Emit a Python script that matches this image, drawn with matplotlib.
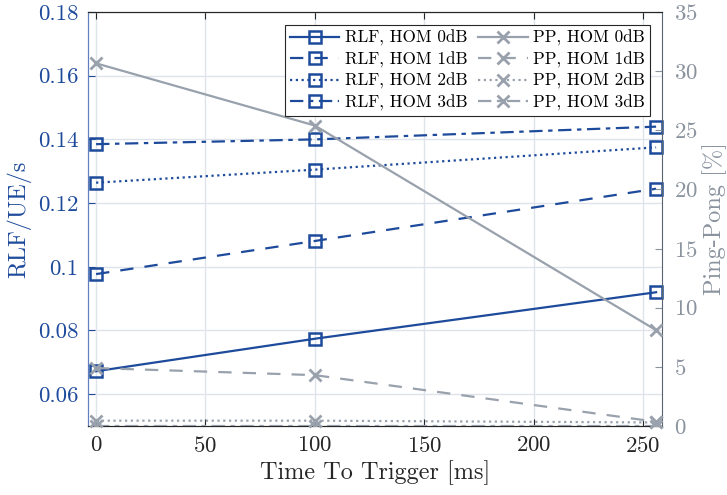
import numpy as np
import matplotlib
matplotlib.use("Agg")
import matplotlib.pyplot as plt

plt.rcParams['font.family'] = 'cmr10'
plt.rcParams['mathtext.fontset'] = 'cm'
plt.rcParams['axes.formatter.use_mathtext'] = True
plt.rcParams['axes.unicode_minus'] = False

# data
ttt = [0, 100, 256]
hom = ['0dB', '1dB', '2dB', '3dB']
rlf = [
    [0.0672, 0.0774, 0.0920],
    [0.0977, 0.1081, 0.1245],
    [0.1264, 0.1305, 0.1375],
    [0.1385, 0.1400, 0.1440],
]
pp = [
    [30.66, 25.4, 8.1],
    [4.9, 4.3, 0.36],
    [0.45, 0.45, 0.3],
    [0.0, 0.0, 0.0],
]

blue = '#1d4a9b'
gray = '#98a1ac'
gray_txt = '#8a939e'
styles = ['-', (0, (6, 5)), (0, (1, 1.6)), (0, (6, 2.5, 2, 2.5))]

fig = plt.figure(figsize=(7.27, 4.95), dpi=100)
ax = fig.add_axes([88/727, 69/495, 574/727, 414/495])
ax2 = ax.twinx()

handles = []
for k in range(4):
    h, = ax.plot(ttt, rlf[k], color=blue, lw=1.6, ls=styles[k], marker='s',
                 ms=8, mfc='none', mec=blue, mew=1.8, clip_on=False, zorder=3,
                 label='RLF, HOM ' + hom[k])
    handles.append(h)
for k in range(4):
    h, = ax2.plot(ttt, pp[k], color=gray, lw=1.6, ls=styles[k], marker='x',
                  ms=9, mec=gray, mew=2, clip_on=(k == 3), zorder=3,
                  label='PP, HOM ' + hom[k])
    handles.append(h)

ax.set_xlim(-3.7, 258.7)
ax.set_ylim(0.05, 0.18)
ax2.set_ylim(0, 35)
ax.set_xticks([0, 50, 100, 150, 200, 250])
ax.set_yticks([0.06, 0.08, 0.1, 0.12, 0.14, 0.16, 0.18])
ax.set_yticklabels(['0.06', '0.08', '0.1', '0.12', '0.14', '0.16', '0.18'])
ax2.set_yticks([0, 5, 10, 15, 20, 25, 30, 35])

ax.grid(True, color='#dfe3ea', lw=1)
ax.set_axisbelow(True)

ax.tick_params(axis='x', direction='in', length=5, labelsize=16.5, colors='#262626', top=True, pad=7)
ax.tick_params(axis='y', direction='in', length=5, labelsize=16.5, colors=blue, right=False, pad=7)
ax2.tick_params(axis='y', direction='in', length=5, labelsize=16.5, colors=gray_txt, pad=9)

ax.spines['left'].set_color('#5f7fbf')
ax2.spines['left'].set_color('#5f7fbf')
ax2.spines['right'].set_color('#5a6470')
ax.spines['right'].set_visible(False)
for s in ['top', 'bottom']:
    ax.spines[s].set_color('#262626')
    ax2.spines[s].set_color('#262626')

ax.set_xlabel('Time To Trigger [ms]', fontsize=17.5, color='#262626', labelpad=3)
ax.set_ylabel('RLF/UE/s', fontsize=17.5, color=blue, labelpad=5)
ax2.set_ylabel('Ping-Pong [%]', fontsize=17.5, color=gray_txt, labelpad=3)

leg = ax2.legend(handles=handles, ncol=2, loc='upper right', fontsize=12.3,
                 bbox_to_anchor=((650 - 88) / 574, (426 - 25) / 414),
                 borderaxespad=0,
                 frameon=True, fancybox=False, edgecolor='#262626',
                 framealpha=1, borderpad=0.3, labelspacing=0.3,
                 handlelength=2.9, handletextpad=0.3, columnspacing=0.65)
leg.get_frame().set_linewidth(0.8)

fig.savefig('out.png', dpi=100)
